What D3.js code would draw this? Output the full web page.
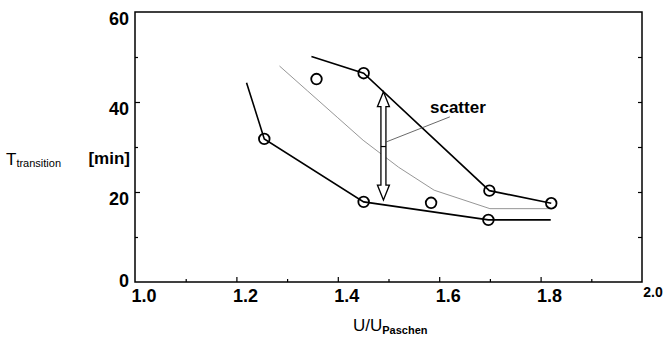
<!DOCTYPE html>
<html lang="en">
  <head>
    <meta charset="utf-8">
    <title>transition time vs U/U_Paschen</title>
    <style>
      body { margin: 0; background: white; }
      text { font-family: "Liberation Sans", Arial, sans-serif; fill: black; }
    </style>
  </head>
  <body>
    <div id="chart-area"></div>
    <script src="https://cdn.jsdelivr.net/npm/d3@7/dist/d3.min.js"></script>
    <script>
      const svg_width = 666;
      const svg_height = 346;

      // data
      const xTicks = [1.0, 1.2, 1.4, 1.6, 1.8, 2.0];
      const xTickLabels = ['1.0', '1.2', '1.4', '1.6', '1.8', '2.0'];
      const xMinor = [1.1, 1.3, 1.5, 1.7, 1.9];
      const yTicks = [0, 20, 40, 60];
      const yMinor = [10, 30, 50];
      const yRightTicks = [10, 20, 30, 40, 50];

      const upperX = [1.348, 1.451, 1.699, 1.821];
      const upperY = [50.1, 46.4, 20.3, 17.5];
      const lowerX = [1.22, 1.255, 1.451, 1.697, 1.82];
      const lowerY = [44.3, 31.8, 17.8, 13.8, 13.8];
      const meanX = [1.285, 1.34, 1.40, 1.45, 1.52, 1.59, 1.70, 1.82];
      const meanY = [48.0, 42.5, 36.5, 31.5, 25.5, 20.4, 16.3, 16.3];
      const pointX = [1.255, 1.358, 1.451, 1.451, 1.584, 1.697, 1.699, 1.821];
      const pointY = [31.8, 45.1, 46.4, 17.8, 17.6, 13.8, 20.3, 17.5];

      // scatter annotation
      const arrowX = 1.49;
      const arrowY = [18.2, 42.3];
      const arrowBreak = 30.1;
      const leaderX = [1.495, 1.621];
      const leaderY = [31.1, 36.7];
      const scatterLabel = 'scatter';

      const x = d3.scaleLinear().domain([1, 2]).range([135, 642]);
      const y = d3.scaleLinear().domain([0, 60]).range([282, 12]);

      const svg = d3.select('#chart-area')
        .append('svg')
        .attr('width', svg_width)
        .attr('height', svg_height);

      //frame
      svg.append('rect')
        .attr('x', x(1)).attr('y', y(60))
        .attr('width', x(2) - x(1)).attr('height', y(0) - y(60))
        .attr('fill', 'none').attr('stroke', 'black').attr('stroke-width', 1.5);

      //inward ticks
      const tickGroup = (axis, tx, ty) => {
        const g = svg.append('g').attr('transform', `translate(${tx},${ty})`).call(axis);
        g.select('.domain').remove();
        g.selectAll('line').attr('stroke', 'black').attr('stroke-width', 1.2);
        g.selectAll('text').remove();
        return g;
      };
      tickGroup(d3.axisBottom(x).tickValues(xTicks.slice(1, -1)).tickSize(-5), 0, y(0));
      tickGroup(d3.axisBottom(x).tickValues(xMinor).tickSize(-3), 0, y(0));
      tickGroup(d3.axisLeft(y).tickValues(yTicks.slice(1, -1)).tickSize(-5), x(1), 0);
      tickGroup(d3.axisLeft(y).tickValues(yMinor).tickSize(-3), x(1), 0);
      tickGroup(d3.axisRight(y).tickValues(yRightTicks).tickSize(-4), x(2), 0);

      //tick labels
      svg.selectAll('.ylab')
        .data(yTicks)
        .enter()
        .append('text')
        .attr('class', 'ylab')
        .attr('x', x(1) - 6)
        .attr('y', d => Math.min(y(d) + 13, y(0) + 5))
        .attr('text-anchor', 'end')
        .attr('font-size', '18px')
        .attr('font-weight', 'bold')
        .text(d => d);

      svg.selectAll('.xlab')
        .data(xTicks)
        .enter()
        .append('text')
        .attr('class', 'xlab')
        .attr('x', (d, i) => i === xTicks.length - 1 ? x(d) + 11 : x(d) + 9)
        .attr('y', (d, i) => i === xTicks.length - 1 ? 297 : 302)
        .attr('text-anchor', 'middle')
        .attr('font-size', (d, i) => i === xTicks.length - 1 ? '14px' : '18px')
        .attr('font-weight', 'bold')
        .text((d, i) => xTickLabels[i]);

      //axis titles
      const yTitle = svg.append('text').attr('x', 6).attr('y', 165).attr('font-size', '17px');
      yTitle.append('tspan').text('T');
      yTitle.append('tspan').attr('font-size', '11px').attr('dy', 2).text('transition');
      svg.append('text')
        .attr('x', 130).attr('y', 164)
        .attr('text-anchor', 'end')
        .attr('font-size', '17px')
        .attr('font-weight', 'bold')
        .text('[min]');

      const xTitle = svg.append('text').attr('x', 353).attr('y', 331).attr('font-size', '17px');
      xTitle.append('tspan').text('U/U');
      xTitle.append('tspan').attr('font-size', '11px').attr('font-weight', 'bold').attr('dy', 3).text('Paschen');

      //lines
      const line = d3.line().x(d => x(d[0])).y(d => y(d[1]));
      svg.append('path')
        .datum(meanX.map((d, i) => [d, meanY[i]]))
        .attr('d', line)
        .attr('fill', 'none').attr('stroke', '#8a8a8a').attr('stroke-width', 0.9);
      svg.append('path')
        .datum(upperX.map((d, i) => [d, upperY[i]]))
        .attr('d', line)
        .attr('fill', 'none').attr('stroke', 'black').attr('stroke-width', 1.6);
      svg.append('path')
        .datum(lowerX.map((d, i) => [d, lowerY[i]]))
        .attr('d', line)
        .attr('fill', 'none').attr('stroke', 'black').attr('stroke-width', 1.6);

      //points
      svg.selectAll('circle')
        .data(pointX)
        .enter()
        .append('circle')
        .attr('cx', d => x(d))
        .attr('cy', (d, i) => y(pointY[i]))
        .attr('r', 5.3)
        .attr('fill', 'none')
        .attr('stroke', 'black')
        .attr('stroke-width', 1.8);

      //scatter annotation: hollow double arrow
      const ax = x(arrowX);
      const aTop = y(arrowY[1]);
      const aBot = y(arrowY[0]);
      const headW = 6, headL = 15, shaftW = 2.5;
      const arrowPath = d3.path();
      arrowPath.moveTo(ax, aTop);
      arrowPath.lineTo(ax + headW, aTop + headL);
      arrowPath.lineTo(ax + shaftW, aTop + headL);
      arrowPath.lineTo(ax + shaftW, aBot - headL);
      arrowPath.lineTo(ax + headW, aBot - headL);
      arrowPath.lineTo(ax, aBot);
      arrowPath.lineTo(ax - headW, aBot - headL);
      arrowPath.lineTo(ax - shaftW, aBot - headL);
      arrowPath.lineTo(ax - shaftW, aTop + headL);
      arrowPath.lineTo(ax - headW, aTop + headL);
      arrowPath.closePath();
      svg.append('path')
        .attr('d', arrowPath.toString())
        .attr('fill', 'white').attr('stroke', 'black').attr('stroke-width', 1.3);
      svg.append('line')
        .attr('x1', ax - shaftW).attr('x2', ax + shaftW)
        .attr('y1', y(arrowBreak)).attr('y2', y(arrowBreak))
        .attr('stroke', 'black').attr('stroke-width', 1.2);

      svg.append('line')
        .attr('x1', x(leaderX[0])).attr('y1', y(leaderY[0]))
        .attr('x2', x(leaderX[1])).attr('y2', y(leaderY[1]))
        .attr('stroke', '#444').attr('stroke-width', 0.8);
      svg.append('text')
        .attr('x', 430).attr('y', 113)
        .attr('font-size', '17px')
        .attr('font-weight', 'bold')
        .text(scatterLabel);
    </script>
  </body>
</html>
